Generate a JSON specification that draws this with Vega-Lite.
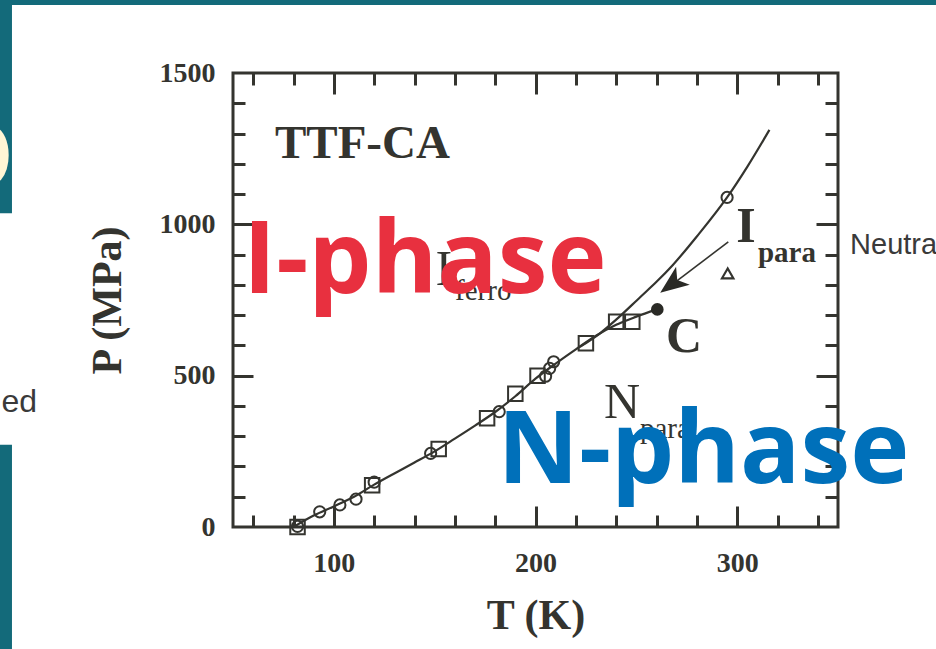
{
  "$schema": "https://vega.github.io/schema/vega-lite/v6.json",
  "width": 605,
  "height": 454,
  "autosize": {"type": "none"},
  "padding": {"left": 233, "top": 73, "right": 98, "bottom": 122},
  "background": "white",
  "config": {
    "view": {"stroke": "#34342f", "strokeWidth": 3},
    "axis": {
      "domain": false,
      "grid": false,
      "tickColor": "#34342f",
      "tickWidth": 3,
      "labelColor": "#34342f",
      "titleColor": "#34342f",
      "labelFont": "Liberation Serif",
      "labelFontWeight": "bold",
      "labelFontSize": 28,
      "titleFont": "Liberation Serif",
      "titleFontWeight": "bold",
      "titleFontSize": 42,
      "labelFlush": false,
      "labelOverlap": false,
      "format": "d"
    }
  },
  "resolve": {"axis": {"x": "independent", "y": "independent"}},
  "layer": [
    {
      "data": {"values": [
        {"T0": -70, "T1": 400, "P0": 1725, "P1": 1760},
        {"T0": -70, "T1": -59.6, "P0": 1037, "P1": 1760},
        {"T0": -70, "T1": -59.6, "P0": -420, "P1": 272}
      ]},
      "mark": {"type": "rect", "color": "#136a7a"},
      "encoding": {
        "x": {"field": "T0", "type": "quantitative", "scale": {"domain": [50, 350], "nice": false, "zero": false}, "axis": null},
        "x2": {"field": "T1"},
        "y": {"field": "P0", "type": "quantitative", "scale": {"domain": [0, 1500], "nice": false, "zero": false}, "axis": null},
        "y2": {"field": "P1"}
      }
    },
    {
      "data": {"values": [
        {"branch": "lower", "T": 80, "P": 0},
        {"branch": "lower", "T": 90, "P": 38},
        {"branch": "lower", "T": 100, "P": 68},
        {"branch": "lower", "T": 110, "P": 100},
        {"branch": "lower", "T": 120, "P": 140},
        {"branch": "lower", "T": 130, "P": 177},
        {"branch": "lower", "T": 140, "P": 213},
        {"branch": "lower", "T": 150, "P": 250},
        {"branch": "lower", "T": 160, "P": 292},
        {"branch": "lower", "T": 170, "P": 335},
        {"branch": "lower", "T": 180, "P": 380},
        {"branch": "lower", "T": 190, "P": 432},
        {"branch": "lower", "T": 200, "P": 490},
        {"branch": "lower", "T": 210, "P": 540},
        {"branch": "lower", "T": 220, "P": 587},
        {"branch": "lower", "T": 230, "P": 632},
        {"branch": "lower", "T": 240, "P": 668},
        {"branch": "lower", "T": 250, "P": 695},
        {"branch": "lower", "T": 260, "P": 719},
        {"branch": "upper", "T": 222, "P": 595},
        {"branch": "upper", "T": 232, "P": 640},
        {"branch": "upper", "T": 240, "P": 685},
        {"branch": "upper", "T": 252, "P": 760},
        {"branch": "upper", "T": 260, "P": 810},
        {"branch": "upper", "T": 268, "P": 865},
        {"branch": "upper", "T": 280, "P": 960},
        {"branch": "upper", "T": 295, "P": 1089},
        {"branch": "upper", "T": 305, "P": 1190},
        {"branch": "upper", "T": 316, "P": 1312}
      ]},
      "mark": {"type": "line", "color": "#34342f", "strokeWidth": 2.2, "interpolate": "monotone"},
      "encoding": {
        "x": {"field": "T", "type": "quantitative", "scale": {"domain": [50, 350], "nice": false, "zero": false},
          "axis": {"orient": "bottom", "values": [100, 200, 300], "ticks": false, "labelPadding": 22, "title": "T (K)", "titlePadding": 18}},
        "y": {"field": "P", "type": "quantitative", "scale": {"domain": [0, 1500], "nice": false, "zero": false},
          "axis": {"orient": "left", "values": [0, 500, 1000, 1500], "ticks": false, "labelPadding": 18, "title": "P (MPa)", "titlePadding": 30}},
        "detail": {"field": "branch"}
      }
    },
    {
      "data": {"values": [
        {"T": 82, "P": 2},
        {"T": 93, "P": 50},
        {"T": 103, "P": 73},
        {"T": 111, "P": 92},
        {"T": 120, "P": 148},
        {"T": 148, "P": 243},
        {"T": 182, "P": 381},
        {"T": 205, "P": 498},
        {"T": 207, "P": 524},
        {"T": 209, "P": 546},
        {"T": 295, "P": 1089}
      ]},
      "mark": {"type": "point", "shape": "circle", "filled": false, "color": "#34342f", "opacity": 1, "strokeWidth": 2, "size": 125},
      "encoding": {
        "x": {"field": "T", "type": "quantitative", "scale": {"domain": [50, 350], "nice": false, "zero": false},
          "axis": {"orient": "bottom", "values": [60, 80, 120, 140, 160, 180, 220, 240, 260, 280, 320, 340], "labels": false, "tickSize": -12, "title": null}},
        "y": {"field": "P", "type": "quantitative", "scale": {"domain": [0, 1500], "nice": false, "zero": false},
          "axis": {"orient": "left", "values": [100, 200, 300, 400, 600, 700, 800, 900, 1100, 1200, 1300, 1400], "labels": false, "tickSize": -12, "title": null}}
      }
    },
    {
      "data": {"values": [
        {"T": 82, "P": 0},
        {"T": 119, "P": 138},
        {"T": 152, "P": 258},
        {"T": 176, "P": 359},
        {"T": 190, "P": 440},
        {"T": 201, "P": 500},
        {"T": 225, "P": 607},
        {"T": 240, "P": 678},
        {"T": 248, "P": 678}
      ]},
      "mark": {"type": "point", "shape": "square", "filled": false, "color": "#34342f", "opacity": 1, "strokeWidth": 2, "size": 210},
      "encoding": {
        "x": {"field": "T", "type": "quantitative", "scale": {"domain": [50, 350], "nice": false, "zero": false},
          "axis": {"orient": "bottom", "values": [100, 200, 300], "labels": false, "tickSize": -21, "title": null}},
        "y": {"field": "P", "type": "quantitative", "scale": {"domain": [0, 1500], "nice": false, "zero": false},
          "axis": {"orient": "left", "values": [500, 1000], "labels": false, "tickSize": -20, "title": null}}
      }
    },
    {
      "data": {"values": [{"T": 260.4, "P": 719}]},
      "mark": {"type": "point", "shape": "circle", "filled": true, "color": "#2a2a26", "opacity": 1, "size": 160},
      "encoding": {
        "x": {"field": "T", "type": "quantitative", "scale": {"domain": [50, 350], "nice": false, "zero": false},
          "axis": {"orient": "top", "values": [100, 200, 300], "labels": false, "tickSize": -21, "title": null}},
        "y": {"field": "P", "type": "quantitative", "scale": {"domain": [0, 1500], "nice": false, "zero": false},
          "axis": {"orient": "right", "values": [500, 1000], "labels": false, "tickSize": -22, "title": null}}
      }
    },
    {
      "data": {"values": [{"T": 295.3, "P": 838}]},
      "mark": {"type": "point", "shape": "triangle-up", "filled": false, "color": "#34342f", "opacity": 1, "strokeWidth": 2.2, "size": 130},
      "encoding": {
        "x": {"field": "T", "type": "quantitative", "scale": {"domain": [50, 350], "nice": false, "zero": false},
          "axis": {"orient": "top", "values": [60, 80, 120, 140, 160, 180, 220, 240, 260, 280, 320, 340], "labels": false, "tickSize": -12, "title": null}},
        "y": {"field": "P", "type": "quantitative", "scale": {"domain": [0, 1500], "nice": false, "zero": false},
          "axis": {"orient": "right", "values": [100, 200, 300, 400, 600, 700, 800, 900, 1100, 1200, 1300, 1400], "labels": false, "tickSize": -13, "title": null}}
      }
    },
    {
      "data": {"values": [
        {"T": 295.6, "P": 942},
        {"T": 268.5, "P": 805}
      ]},
      "mark": {"type": "line", "color": "#34342f", "strokeWidth": 1.6},
      "encoding": {
        "x": {"field": "T", "type": "quantitative", "axis": null},
        "y": {"field": "P", "type": "quantitative", "axis": null}
      }
    },
    {
      "data": {"values": [{"T": 268.1, "P": 805}]},
      "mark": {"type": "point", "shape": "M0,-1L0.72,0.8L0,0.35L-0.72,0.8Z", "filled": true, "color": "#2a2a26", "opacity": 1, "size": 1000, "angle": 233},
      "encoding": {
        "x": {"field": "T", "type": "quantitative", "axis": null},
        "y": {"field": "P", "type": "quantitative", "axis": null}
      }
    },
    {
      "data": {"values": [
        {"T": 70.8, "P": 1219, "label": "TTF-CA"}
      ]},
      "mark": {"type": "text", "font": "Liberation Serif", "fontWeight": "bold", "fontSize": 47, "align": "left", "baseline": "alphabetic", "color": "#34342f"},
      "encoding": {
        "x": {"field": "T", "type": "quantitative", "axis": null},
        "y": {"field": "P", "type": "quantitative", "axis": null},
        "text": {"field": "label"}
      }
    },
    {
      "data": {"values": [
        {"T": 304.4, "P": 942, "label": "I"},
        {"T": 273.6, "P": 578, "label": "C"}
      ]},
      "mark": {"type": "text", "font": "Liberation Serif", "fontWeight": "bold", "fontSize": 50, "align": "center", "baseline": "alphabetic", "color": "#34342f"},
      "encoding": {
        "x": {"field": "T", "type": "quantitative", "axis": null},
        "y": {"field": "P", "type": "quantitative", "axis": null},
        "text": {"field": "label"}
      }
    },
    {
      "data": {"values": [
        {"T": 310.3, "P": 876, "label": "para"}
      ]},
      "mark": {"type": "text", "font": "Liberation Serif", "fontWeight": "bold", "fontSize": 29, "align": "left", "baseline": "alphabetic", "color": "#34342f"},
      "encoding": {
        "x": {"field": "T", "type": "quantitative", "axis": null},
        "y": {"field": "P", "type": "quantitative", "axis": null},
        "text": {"field": "label"}
      }
    },
    {
      "data": {"values": [
        {"T": 242.9, "P": 360, "label": "N"},
        {"T": 154.6, "P": 800, "label": "I"}
      ]},
      "mark": {"type": "text", "font": "Liberation Serif", "fontSize": 50, "align": "center", "baseline": "alphabetic", "color": "#34342f"},
      "encoding": {
        "x": {"field": "T", "type": "quantitative", "axis": null},
        "y": {"field": "P", "type": "quantitative", "axis": null},
        "text": {"field": "label"}
      }
    },
    {
      "data": {"values": [
        {"T": 251.8, "P": 294, "label": "para"},
        {"T": 160.1, "P": 750, "label": "ferro"}
      ]},
      "mark": {"type": "text", "font": "Liberation Serif", "fontSize": 29, "align": "left", "baseline": "alphabetic", "color": "#34342f"},
      "encoding": {
        "x": {"field": "T", "type": "quantitative", "axis": null},
        "y": {"field": "P", "type": "quantitative", "axis": null},
        "text": {"field": "label"}
      }
    },
    {
      "data": {"values": [
        {"T": 55, "P": 773, "label": "I-phase", "phase": "I"},
        {"T": 181.2, "P": 145, "label": "N-phase", "phase": "N"}
      ]},
      "mark": {"type": "text", "font": "Open Sans", "fontWeight": 700, "fontSize": 100, "align": "left", "baseline": "alphabetic"},
      "encoding": {
        "x": {"field": "T", "type": "quantitative", "axis": null},
        "y": {"field": "P", "type": "quantitative", "axis": null},
        "text": {"field": "label"},
        "color": {"field": "phase", "type": "nominal", "scale": {"domain": ["I", "N"], "range": ["#e8303f", "#0070ba"]}, "legend": null}
      }
    },
    {
      "data": {"values": [
        {"T": 356, "P": 902, "label": "Neutra", "al": "left", "fs": 29},
        {"T": -47.2, "P": 380, "label": "ed", "al": "right", "fs": 32}
      ]},
      "mark": {"type": "text", "font": "Liberation Sans", "fontSize": {"expr": "datum.fs"}, "align": {"expr": "datum.al"}, "baseline": "alphabetic", "color": "#3a3a3a"},
      "encoding": {
        "x": {"field": "T", "type": "quantitative", "axis": null},
        "y": {"field": "P", "type": "quantitative", "axis": null},
        "text": {"field": "label"}
      }
    },
    {
      "data": {"values": [
        {"T": -58.6, "P": 1120, "label": "O"}
      ]},
      "mark": {"type": "text", "font": "Open Sans", "fontWeight": 700, "fontSize": 92, "align": "right", "baseline": "alphabetic", "color": "#fff6d5"},
      "encoding": {
        "x": {"field": "T", "type": "quantitative", "axis": null},
        "y": {"field": "P", "type": "quantitative", "axis": null},
        "text": {"field": "label"}
      }
    }
  ]
}
